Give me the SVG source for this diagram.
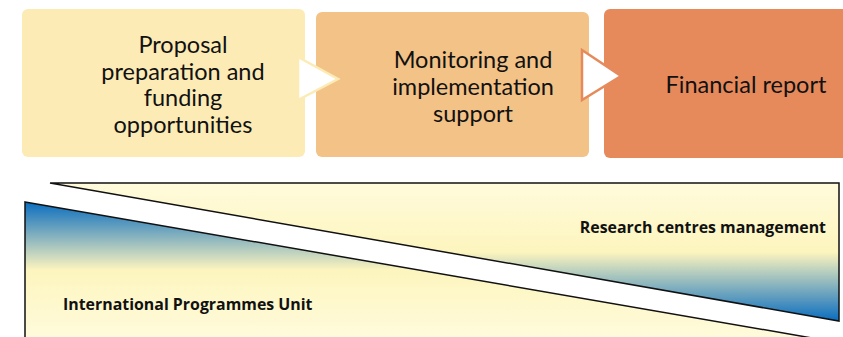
<svg xmlns="http://www.w3.org/2000/svg" width="843" height="337" viewBox="0 0 843 337">
<style>
.t{font-family:Lato,"Liberation Sans",sans-serif;font-size:23.5px;fill:#111;text-anchor:middle}
.b{font-family:"Open Sans","Liberation Sans",sans-serif;font-size:15.9px;font-weight:bold;fill:#111}
.tri{stroke:#111;stroke-width:1.5}
</style>
<defs>
<linearGradient id="gTop" x1="0" y1="0" x2="0" y2="1">
<stop offset="0" stop-color="#FFFBDC"/>
<stop offset="0.5" stop-color="#FDF5BE"/>
<stop offset="1" stop-color="#0A6DBF"/>
</linearGradient>
<linearGradient id="gBot" x1="0" y1="0" x2="0" y2="1">
<stop offset="0" stop-color="#0A6DBF"/>
<stop offset="0.5" stop-color="#FDF5BE"/>
<stop offset="1" stop-color="#FFFBDC"/>
</linearGradient>
</defs>
<g id="node-proposal">
<rect x="22" y="9" width="283" height="148" rx="6" fill="#FCEBB5"/>
<text class="t" x="183" y="53">Proposal</text>
<text class="t" x="183" y="80">preparation and</text>
<text class="t" x="183" y="106">funding</text>
<text class="t" x="183" y="133">opportunities</text>
</g>
<g id="node-monitoring">
<rect x="316" y="12" width="273" height="145" rx="6" fill="#F3C286"/>
<text class="t" x="473" y="68">Monitoring and</text>
<text class="t" x="473" y="95">implementation</text>
<text class="t" x="473" y="122">support</text>
</g>
<g id="node-financial">
<rect x="604" y="9" width="250" height="149" rx="6" fill="#E68A5C"/>
<text class="t" x="746" y="93">Financial report</text>
</g>
<g id="connectors">
<polygon points="298,57 338,79 298,100" fill="#fff" stroke="#FCEBB5" stroke-width="2.5"/>
<polygon points="582,50 621,76 582,100" fill="#fff" stroke="#E68A5C" stroke-width="2.5"/>
</g>
<polygon class="tri" points="50,183 839,183 839,321" fill="url(#gTop)"/>
<polygon class="tri" points="25,202 812,338 25,338" fill="url(#gBot)"/>
<text class="b" x="63" y="310">International Programmes Unit</text>
<text class="b" x="826" y="233" text-anchor="end">Research centres management</text>
</svg>
